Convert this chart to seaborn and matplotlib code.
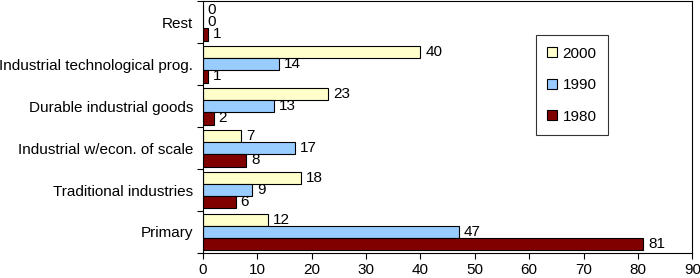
import seaborn as sns
import matplotlib.pyplot as plt
import pandas as pd
import matplotlib
matplotlib.use('Agg')

# data
categories = ["Rest", "Industrial technological prog.", "Durable industrial goods",
              "Industrial w/econ. of scale", "Traditional industries", "Primary"]
years = ["2000", "1990", "1980"]
v2000 = [0, 40, 23, 7, 18, 12]
v1990 = [0, 14, 13, 17, 9, 47]
v1980 = [1, 1, 2, 8, 6, 81]
colors = ["#FFFFCC", "#99CCFF", "#800000"]

df = pd.DataFrame({
    "sector": categories * 3,
    "year": [y for y in years for _ in categories],
    "value": v2000 + v1990 + v1980,
})

sns.set_theme(style="white")
plt.rcParams['font.family'] = ['Liberation Sans', 'DejaVu Sans']
plt.rcParams['text.color'] = 'black'
plt.rcParams['xtick.color'] = 'black'
plt.rcParams['ytick.color'] = 'black'

fig = plt.figure(figsize=(7, 2.78), dpi=100)
ax = fig.add_axes([0.29, 0.09, 0.699, 0.906])

sns.barplot(data=df, y="sector", x="value", hue="year", hue_order=years,
            order=categories, palette=colors, orient="h", width=0.88,
            edgecolor="black", linewidth=0.8, saturation=1, ax=ax)

for cont in ax.containers:
    ax.bar_label(cont, padding=3.5, fontsize=11, color="black")

ax.set_xlim(0, 90)
ax.set_ylim(len(categories) - 0.5, -0.5)
ax.set_xticks(range(0, 91, 10))
ax.set_xlabel("")
ax.set_ylabel("")
ax.tick_params(axis="x", labelsize=11, length=4, width=0.8, color="black", direction="out", bottom=True)
ax.tick_params(axis="y", labelsize=11, length=0, pad=7)
ax.set_yticks([i + 0.5 for i in range(-1, len(categories))], minor=True)
ax.tick_params(axis="y", which="minor", length=4, width=0.8, color="black", left=True)
for s in ax.spines.values():
    s.set_color("black")
    s.set_linewidth(0.8)

leg = ax.legend(title=None, loc="upper left", bbox_to_anchor=(0.68, 0.865),
                frameon=True, fancybox=False, edgecolor="black", fontsize=11,
                handlelength=0.65, handleheight=0.65, labelspacing=1.15,
                borderpad=0.75, handletextpad=0.35, borderaxespad=0)
leg.get_frame().set_linewidth(0.8)

plt.savefig("out.png", dpi=100)
